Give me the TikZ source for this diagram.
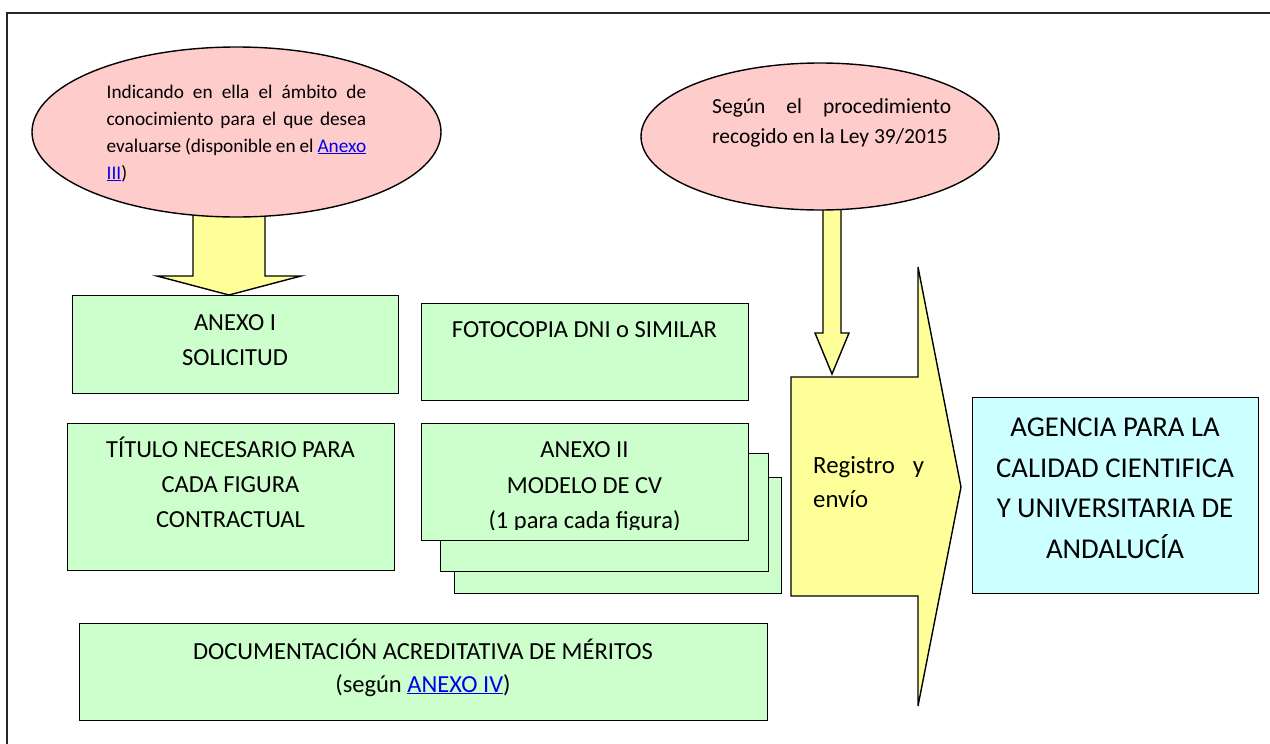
\documentclass[tikz,border=0pt]{standalone}
\usepackage{fontspec}
\setmainfont{Carlito}
\usetikzlibrary{shapes.geometric}
\definecolor{pinkf}{HTML}{FFCCCC}
\definecolor{yellowf}{HTML}{FFFF99}
\definecolor{greenf}{HTML}{CCFFCC}
\definecolor{cyanf}{HTML}{CCFFFF}
\definecolor{linkblue}{HTML}{0000EE}
\newcommand{\lnk}[1]{{\color{linkblue}\underline{#1}}}
\begin{document}
\begin{tikzpicture}[x=1pt,y=-1pt,
  shape line/.style={draw=black,line width=1.4pt,line join=miter},
  box/.style={shape line,fill=greenf,rectangle,inner sep=0pt,anchor=north west},
  oval/.style={shape line,fill=pinkf,ellipse,inner sep=0pt},
  blockarrow/.style={shape line,fill=yellowf},
  txt/.style={inner sep=0pt,anchor=base,font=\fontsize{24.5}{30}\selectfont},
  txtw/.style={inner sep=0pt,anchor=base west},
]
\useasboundingbox (0,0) rectangle (1270,744);
% frame
\draw[line width=2pt,black!85] (1270,13) -- (7,13) -- (7,744);

% down arrows (drawn before ellipses so ellipses cover their tops)
\draw[blockarrow] (193,205) -- (193,276) -- (157,276) -- (229,295) -- (301,276) -- (265,276) -- (265,205) -- cycle;
\draw[blockarrow] (823,200) -- (823,333) -- (815,333) -- (832,374) -- (849,333) -- (841,333) -- (841,200) -- cycle;

% ellipses
\node[oval,minimum width=409pt,minimum height=170pt] (ell1) at (236.5,132) {};
\node[oval,minimum width=358pt,minimum height=147pt] (ell2) at (820,136.5) {};

\node[txtw,font=\fontsize{19.3}{27}\selectfont] (e1a) at (106.5,98) {\makebox[259.5pt][s]{Indicando en ella el ámbito de}};
\node[txtw,font=\fontsize{19.3}{27}\selectfont] (e1b) at (106.5,125) {\makebox[259.5pt][s]{conocimiento para el que desea}};
\node[txtw,font=\fontsize{19.3}{27}\selectfont] (e1c) at (106.5,152) {\makebox[259.5pt][s]{evaluarse (disponible en el \lnk{Anexo}}};
\node[txtw,font=\fontsize{19.3}{27}\selectfont] (e1d) at (106.5,179) {\lnk{III})};

\node[txtw,font=\fontsize{21.5}{30}\selectfont] (e2a) at (712,113) {\makebox[239pt][s]{Según el procedimiento}};
\node[txtw,font=\fontsize{21.5}{30}\selectfont] (e2b) at (712,143.5) {recogido en la Ley 39/2015};

% big yellow arrow
\draw[blockarrow] (791,377) -- (918,377) -- (918,267) -- (961,487) -- (918,706) -- (918,596) -- (791,596) -- cycle;
\coordinate (bigtip) at (961,487);
\node[txtw,font=\fontsize{24.8}{34}\selectfont] (rega) at (813,473) {\makebox[111pt][s]{Registro y}};
\node[txtw,font=\fontsize{24.8}{34}\selectfont] (regb) at (813,507) {envío};

% green boxes
\node[box,minimum width=326pt,minimum height=98pt] (anexo1) at (72,295) {};
\node[txt] (a1a) at (235,330) {ANEXO I};
\node[txt] (a1b) at (235,365) {SOLICITUD};

\node[box,minimum width=327pt,minimum height=97pt] (foto) at (421,303) {};
\node[txt] (fa) at (584.5,337.5) {FOTOCOPIA DNI o SIMILAR};

\node[box,minimum width=327pt,minimum height=147pt] (titulo) at (67,423) {};
\node[txt] (ta) at (230.5,457) {TÍTULO NECESARIO PARA};
\node[txt] (tb) at (230.5,492) {CADA FIGURA};
\node[txt] (tc) at (230.5,527) {CONTRACTUAL};

\node[box,minimum width=327pt,minimum height=116pt] (cv3) at (454,477) {};
\node[box,minimum width=328pt,minimum height=118pt] (cv2) at (440,453) {};
\node[box,minimum width=327pt,minimum height=117pt] (cv1) at (421,423) {};
\node[txt] (cva) at (584.5,457) {ANEXO II};
\node[txt] (cvb) at (584.5,493) {MODELO DE CV};
\begin{scope}
\clip (421,500) rectangle (748,529);
\node[txt] (cvc) at (584.5,528) {(1 para cada figura)};
\end{scope}

\node[box,minimum width=688pt,minimum height=97pt] (docs) at (79,623) {};
\node[txt] (da) at (423,659) {DOCUMENTACIÓN ACREDITATIVA DE MÉRITOS};
\node[txt] (db) at (423,692) {(según \lnk{ANEXO IV})};

% agency box
\node[box,fill=cyanf,minimum width=286pt,minimum height=196pt] (agencia) at (972,397) {};
\node[txt,font=\fontsize{28.7}{40}\selectfont] (ga) at (1115,436) {AGENCIA PARA LA};
\node[txt,font=\fontsize{28.7}{40}\selectfont] (gb) at (1115,477) {CALIDAD CIENTIFICA};
\node[txt,font=\fontsize{28.7}{40}\selectfont] (gc) at (1115,517) {Y UNIVERSITARIA DE};
\node[txt,font=\fontsize{28.7}{40}\selectfont] (gd) at (1115,558) {ANDALUCÍA};
\end{tikzpicture}
\end{document}
